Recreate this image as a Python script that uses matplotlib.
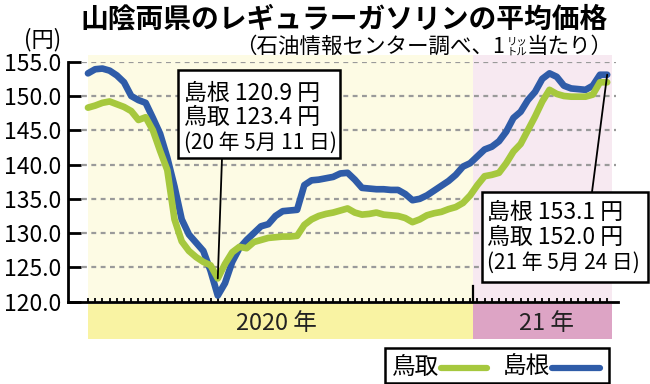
import matplotlib
matplotlib.use("Agg")
import matplotlib.pyplot as plt
from matplotlib.patches import Rectangle
from matplotlib.lines import Line2D
import matplotlib.transforms as mtransforms

plt.rcParams['font.family'] = ['Noto Sans CJK JP', 'DejaVu Sans']

# ---- data (weekly, 2020-01-06 .. 2021-05-24) ----
weeks = list(range(73))
shimane = [153.3, 153.9, 154.0, 153.7, 153.0, 152.0, 150.0, 149.4, 149.0, 146.8,
           144.5, 141.0, 136.8, 132.0, 129.8, 128.6, 127.4, 124.5, 120.9, 122.7,
           125.8, 127.8, 129.0, 130.0, 131.0, 131.3, 132.5, 133.2, 133.3, 133.4,
           137.0, 137.7, 137.8, 138.0, 138.2, 138.7, 138.8, 137.8, 136.6, 136.5,
           136.4, 136.4, 136.3, 136.3, 135.7, 134.8, 135.0, 135.5, 136.2, 136.9,
           137.6, 138.5, 139.7, 140.2, 141.2, 142.2, 142.6, 143.4, 144.8, 146.8,
           147.7, 149.4, 150.6, 152.5, 153.3, 152.8, 151.5, 151.1, 151.0, 150.9,
           151.5, 153.1, 153.1]
tottori = [148.3, 148.6, 149.0, 149.2, 148.8, 148.4, 147.8, 146.5, 146.9, 145.0,
           142.0, 139.2, 132.0, 128.8, 127.4, 126.5, 125.8, 125.3, 123.4, 125.5,
           127.2, 128.0, 127.8, 128.7, 129.0, 129.3, 129.4, 129.5, 129.5, 129.6,
           131.2, 132.0, 132.5, 132.8, 133.0, 133.3, 133.6, 133.0, 132.7, 132.8,
           133.0, 132.7, 132.6, 132.5, 132.2, 131.6, 132.0, 132.6, 132.9, 133.1,
           133.5, 133.8, 134.4, 135.5, 137.0, 138.3, 138.5, 138.8, 140.2, 141.9,
           143.0, 145.0, 147.0, 149.2, 150.9, 150.3, 150.0, 149.9, 149.9, 149.9,
           150.2, 152.0, 152.0]
yticks = [120, 125, 130, 135, 140, 145, 150, 155]
ytick_labels = ["120.0", "125.0", "130.0", "135.0", "140.0", "145.0", "150.0", "155.0"]
year_labels = ["2020 年", "21 年"]
series_names = ["鳥取", "島根"]
ann_low = ["島根 120.9 円", "鳥取 123.4 円", "(20 年 5月 11 日)"]
ann_last = ["島根 153.1 円", "鳥取 152.0 円", "(21 年 5月 24 日)"]
low_idx, last_idx = 18, 72

BLUE = "#2f5ca8"
GREEN = "#a6c83e"

W, H = 650, 384
fig = plt.figure(figsize=(6.5, 3.84), dpi=100)
fig.patch.set_facecolor("white")

def fx(x):
    return x / W

def fy(y):
    return 1 - y / H

ax = fig.add_axes([fx(68), fy(301.7), (618 - 68) / W, 240 / H])
ax.set_facecolor("white")
ax.set_xlim(-2.77, 73.5)
ax.set_ylim(120, 155)

# backgrounds
split = 53.4
end = 72.7
ax.add_patch(Rectangle((0, 120), split, 36, facecolor="#fdfbe4", edgecolor="none", zorder=0, clip_on=False))
ax.add_patch(Rectangle((split, 120), end - split, 36, facecolor="#f7e9f1", edgecolor="none", zorder=0, clip_on=False))

# year band below axis
tb = mtransforms.blended_transform_factory(ax.transData, ax.transAxes)
ax.add_patch(Rectangle((0, -0.155), split, 0.147, transform=tb, facecolor="#f9f3a3",
                       edgecolor="none", clip_on=False, zorder=0))
ax.add_patch(Rectangle((split, -0.155), end - split, 0.147, transform=tb, facecolor="#dda4c5",
                       edgecolor="none", clip_on=False, zorder=0))
ax.text(split / 2 - 0.5, -0.09, year_labels[0], transform=tb, ha="center", va="center",
        fontsize=17, color="#222222")
ax.text((split + end) / 2 + 0.5, -0.09, year_labels[1], transform=tb, ha="center", va="center",
        fontsize=17, color="#222222")

# dashed grid
for v in yticks[1:]:
    ax.plot([-0.85, 73.2], [v, v], color="#9a9a9a", lw=1.6, dashes=(2.2, 2.0), zorder=1,
            solid_capstyle="butt")

# lines
ax.plot(weeks, shimane, color=BLUE, lw=4.8, solid_capstyle="round", solid_joinstyle="round", zorder=3)
ax.plot(weeks, tottori, color=GREEN, lw=4.8, solid_capstyle="round", solid_joinstyle="round", zorder=4)

# axes styling
for s in ["top", "right"]:
    ax.spines[s].set_visible(False)
for s in ["left", "bottom"]:
    ax.spines[s].set_linewidth(2.0)
    ax.spines[s].set_zorder(5)
ax.set_yticks(yticks)
ax.set_yticklabels(ytick_labels)
ax.tick_params(axis="y", direction="in", length=9.5, width=2.0, pad=5, labelsize=16.5, colors="black")
ax.set_xticks(weeks)
ax.set_xticklabels([])
ax.tick_params(axis="x", direction="in", length=3.2, width=1.3, colors="black")
ax.plot([split, split], [0, 0.065], transform=tb, color="black", lw=1.6, zorder=5, clip_on=False)

# title etc.
fig.text(fx(43), fy(40), "(円)", ha="center", va="center", fontsize=16)
fig.text(fx(344), fy(20), "山陰両県のレギュラーガソリンの平均価格", ha="center", va="center",
         fontsize=20, fontweight="bold")
fig.text(fx(505), fy(47), "（石油情報センター調べ、1", ha="right", va="center", fontsize=15.5)
fig.text(fx(517), fy(41.5), "リッ", ha="center", va="center", fontsize=7.5)
fig.text(fx(517), fy(52), "トル", ha="center", va="center", fontsize=7.5)
fig.text(fx(527), fy(47), "当たり）", ha="left", va="center", fontsize=15.5)

# annotation boxes
def box(x0, y0, x1, y1):
    fig.add_artist(Rectangle((fx(x0), fy(y1)), fx(x1) - fx(x0), (y1 - y0) / H, transform=fig.transFigure,
                             facecolor="white", edgecolor="black", lw=1.8, zorder=10))

ann_sizes = [16.5, 16.5, 15.0]

box(178, 70, 340, 158)
for i, t in enumerate(ann_low):
    fig.text(fx(184), fy(93 + 25 * i), t, ha="left", va="center", fontsize=ann_sizes[i], zorder=11)
ax.annotate("", xy=(weeks[low_idx], tottori[low_idx]), xycoords="data",
            xytext=(222, H - 158), textcoords="figure pixels",
            arrowprops=dict(arrowstyle="-", color="black", lw=1.3, shrinkA=0, shrinkB=0), zorder=9)

box(482, 192, 648, 282)
for i, t in enumerate(ann_last):
    fig.text(fx(487), fy(212 + 25.5 * i), t, ha="left", va="center", fontsize=ann_sizes[i], zorder=11)
ax.annotate("", xy=(weeks[last_idx], shimane[last_idx]), xycoords="data",
            xytext=(592, H - 192), textcoords="figure pixels",
            arrowprops=dict(arrowstyle="-", color="black", lw=1.3, shrinkA=0, shrinkB=0), zorder=9)

# legend
box(385, 348, 609, 383)
fig.text(fx(392), fy(367), series_names[0], ha="left", va="center", fontsize=17, zorder=11)
fig.add_artist(Line2D([fx(441), fx(487)], [fy(368), fy(368)], color=GREEN, lw=4.5,
                      solid_capstyle="round", zorder=11))
fig.text(fx(503), fy(367), series_names[1], ha="left", va="center", fontsize=17, zorder=11)
fig.add_artist(Line2D([fx(552), fx(600)], [fy(368), fy(368)], color=BLUE, lw=4.5,
                      solid_capstyle="round", zorder=11))

fig.savefig("out.png", dpi=100)
